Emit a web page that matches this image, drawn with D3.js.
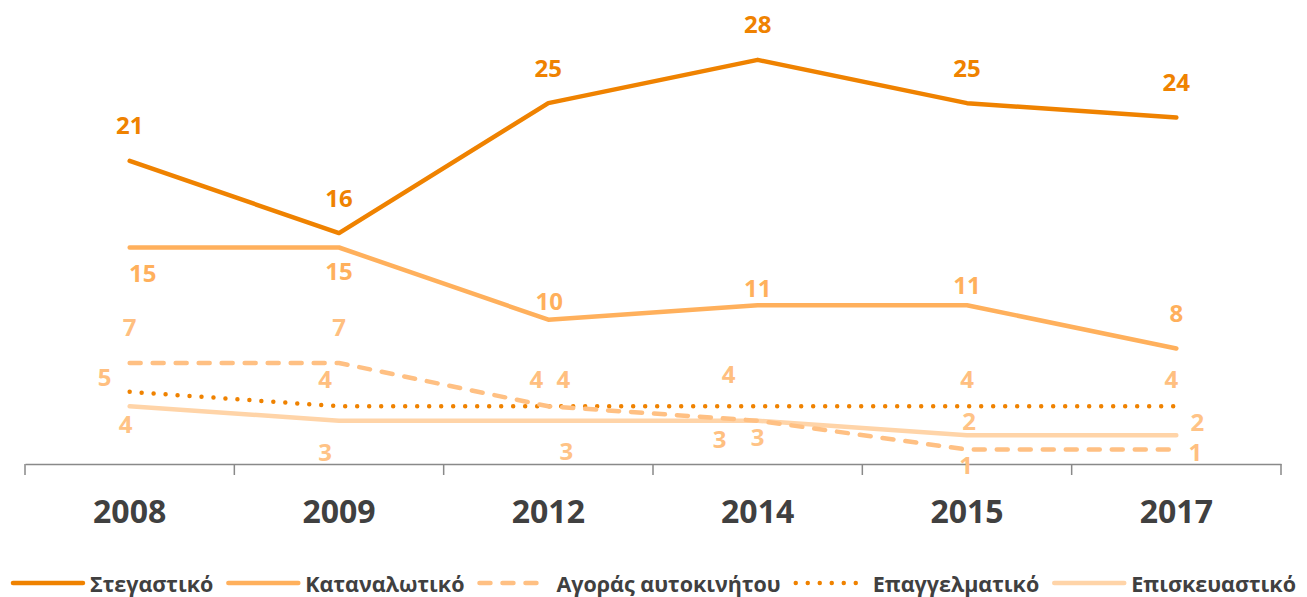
<!DOCTYPE html>
<html>
<head>
<meta charset="utf-8">
<script src="https://cdn.jsdelivr.net/npm/d3@7"></script>
<style>
  body { margin: 0; background: #fff; }
  text { font-family: "Open Sans", sans-serif; font-weight: bold; }
</style>
</head>
<body>
<div id="chart"></div>
<script>
// data
var years = ["2008", "2009", "2012", "2014", "2015", "2017"];
var seriesNames = ["Στεγαστικό", "Καταναλωτικό", "Αγοράς αυτοκινήτου", "Επαγγελματικό", "Επισκευαστικό"];
var housing = [21, 16, 25, 28, 25, 24];
var consumer = [15, 15, 10, 11, 11, 8];
var carLoan = [7, 7, 4, 3, 1, 1];
var business = [5, 4, 4, 4, 4, 4];
var repair = [4, 3, 3, 3, 2, 2];

var svgWidth = 1307;
var svgHeight = 597;

var margin = { top: 31, right: 26, bottom: 133, left: 25 };
var width = svgWidth - margin.left - margin.right;
var height = svgHeight - margin.top - margin.bottom;

var svg = d3.select("#chart")
    .append("svg")
    .attr("width", svgWidth)
    .attr("height", svgHeight);

var chartGroup = svg.append("g")
    .attr("transform", `translate(${margin.left}, ${margin.top})`);

var xBand = d3.scaleBand()
    .domain(years)
    .range([0, width]);

var yLinearScale = d3.scaleLinear()
    .domain([0, 30])
    .range([height, 0]);

// series styles + label offsets (dx, dy from the point)
var series = [
    { name: seriesNames[0], values: housing, color: "#EF8200", labelColor: "#EF8200", dash: null, legLen: 72,
      dx: [0, 0, 0, 0, 0, 0], dy: [-36, -36, -36, -36, -36, -36] },
    { name: seriesNames[1], values: consumer, color: "#FFB05C", labelColor: "#FFB05C", dash: null, legLen: 72,
      dx: [13, 0, 1, 0, 0, 0], dy: [25, 23, -19, -18, -21, -36] },
    { name: seriesNames[2], values: carLoan, color: "#FFC083", labelColor: "#FFBF80", dash: "11,12", legLen: 62,
      dx: [0, 0, -12, -38, -1, 19], dy: [-36, -36, -28, 18, 15, 2] },
    { name: seriesNames[3], values: business, color: "#EF8200", labelColor: "#FFBF80", dash: "0,12", legLen: 68,
      dx: [-25, -14, 15, -29, 0, -5], dy: [-15, -28, -28, -33, -28, -28] },
    { name: seriesNames[4], values: repair, color: "#FFD4A8", labelColor: "#FFC386", dash: null, legLen: 72,
      dx: [-4, -14, 18, 0, 2, 21], dy: [17, 31, 30, 16, -15, -14] }
];

var xCenter = d => xBand(d) + xBand.bandwidth() / 2;

// axis
var bottomAxis = d3.axisBottom(xBand).tickSize(0).tickPadding(36);
var xAxisG = chartGroup.append("g")
    .attr("transform", `translate(0, ${height})`)
    .call(bottomAxis);
xAxisG.select(".domain").attr("stroke", "#898989").attr("stroke-width", 1.5);
xAxisG.selectAll(".tick text")
    .attr("fill", "#404040")
    .style("font-size", "32px")
    .style("font-family", "'Open Sans', sans-serif")
    .style("font-weight", "bold")
    .attr("dy", "0.71em");

// tick marks between categories
var bounds = years.map(d => xBand(d)).concat([width]);
chartGroup.selectAll(".sep")
    .data(bounds)
    .enter()
    .append("line")
    .attr("class", "sep")
    .attr("x1", d => d)
    .attr("x2", d => d)
    .attr("y1", height)
    .attr("y2", height + 11)
    .attr("stroke", "#898989")
    .attr("stroke-width", 1.5);

var line = d3.line()
    .x((d, i) => xCenter(years[i]))
    .y(d => yLinearScale(d));

// draw back to front
var drawOrder = [4, 3, 2, 1, 0];
drawOrder.forEach(function (k) {
    var s = series[k];
    chartGroup.append("path")
        .datum(s.values)
        .attr("d", line)
        .attr("fill", "none")
        .attr("stroke", s.color)
        .attr("stroke-width", 4.5)
        .attr("stroke-linecap", "round")
        .attr("stroke-linejoin", "round")
        .attr("stroke-dasharray", s.dash);
});

// data labels
series.forEach(function (s) {
    chartGroup.selectAll(null)
        .data(s.values)
        .enter()
        .append("text")
        .attr("x", (d, i) => xCenter(years[i]) + s.dx[i])
        .attr("y", (d, i) => yLinearScale(d) + s.dy[i])
        .attr("text-anchor", "middle")
        .attr("dominant-baseline", "central")
        .attr("fill", s.labelColor)
        .style("font-size", "24px")
        .text(d => d);
});

// legend
var legend = svg.append("g");
var items = legend.selectAll("g")
    .data(series)
    .enter()
    .append("g");

items.append("line")
    .attr("x1", 2)
    .attr("x2", d => d.legLen)
    .attr("y1", 0)
    .attr("y2", 0)
    .attr("stroke", d => d.color)
    .attr("stroke-width", 4.5)
    .attr("stroke-linecap", "round")
    .attr("stroke-dasharray", d => d.dash);

items.append("text")
    .attr("x", 79)
    .attr("y", 0)
    .attr("dominant-baseline", "central")
    .attr("fill", "#404040")
    .style("font-size", "21.5px")
    .text(d => d.name);

var gap = 13;
var xPos = 0;
items.each(function () {
    var w = 79 + d3.select(this).select("text").node().getComputedTextLength();
    d3.select(this).attr("transform", `translate(${xPos}, 0)`);
    xPos += w + gap;
});
var total = xPos - gap;
legend.attr("transform", `translate(${(svgWidth - total) / 2}, 583)`);
</script>
</body>
</html>
